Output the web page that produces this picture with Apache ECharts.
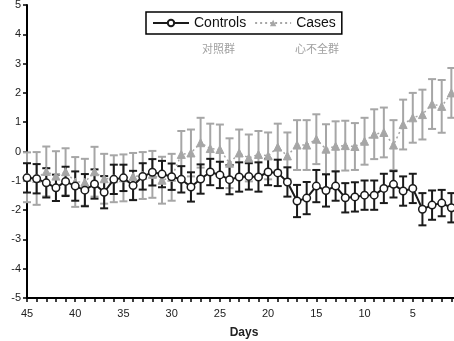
<!DOCTYPE html>
<html><head><meta charset="utf-8">
<script src="https://cdn.jsdelivr.net/npm/echarts@6/dist/echarts.min.js"></script>
<style>html,body{margin:0;padding:0;background:#fff}#c{width:454px;height:341px}</style>
</head><body><div id="c"></div>
<script>
const days = [45,44,43,42,41,40,39,38,37,36,35,34,33,32,31,30,29,28,27,26,25,24,23,22,21,20,19,18,17,16,15,14,13,12,11,10,9,8,7,6,5,4,3,2,1];
const controls = [-0.90,-0.93,-1.07,-1.24,-1.02,-1.18,-1.32,-1.11,-1.39,-0.95,-0.90,-1.16,-0.85,-0.71,-0.77,-0.86,-0.95,-1.21,-0.94,-0.70,-0.80,-0.96,-0.87,-0.85,-0.87,-0.70,-0.73,-1.04,-1.69,-1.59,-1.18,-1.33,-1.18,-1.58,-1.55,-1.49,-1.49,-1.26,-1.12,-1.35,-1.26,-1.97,-1.83,-1.76,-1.92];
const controlsErr = [0.5,0.5,0.5,0.45,0.5,0.5,0.55,0.5,0.55,0.5,0.45,0.5,0.45,0.45,0.45,0.45,0.45,0.5,0.5,0.45,0.45,0.5,0.5,0.45,0.5,0.45,0.45,0.5,0.55,0.55,0.55,0.55,0.5,0.5,0.5,0.5,0.5,0.5,0.45,0.5,0.5,0.55,0.5,0.45,0.5];
const cases = [-0.88,-0.92,-0.68,-0.84,-0.69,-1.04,-1.05,-0.69,-0.93,-0.93,-0.90,-0.85,-0.82,-0.78,-0.98,-0.88,-0.10,-0.05,0.30,0.10,0.07,-0.40,-0.05,-0.22,-0.10,-0.15,0.15,-0.15,0.22,0.22,0.42,0.08,0.18,0.20,0.17,0.35,0.59,0.65,0.22,0.92,1.15,1.26,1.62,1.54,2.00];
const casesErr = [0.85,0.9,0.85,0.85,0.8,0.85,0.8,0.85,0.85,0.8,0.8,0.8,0.8,0.8,0.8,0.8,0.8,0.8,0.85,0.85,0.85,0.85,0.8,0.8,0.8,0.8,0.8,0.8,0.85,0.85,0.85,0.85,0.85,0.85,0.8,0.8,0.85,0.85,0.85,0.85,0.85,0.85,0.85,0.9,0.85];
const yTicks = [-5,-4,-3,-2,-1,0,1,2,3,4,5];
const seriesNames = ['Controls','Cases'];
const groupLabels = ['对照群','心不全群'];

const BLACK = '#1a1a1a', GRAY = '#a6a6a6';
const FONT = 'Liberation Sans, Arial, sans-serif';

function errSeries(vals, errs, color) {
  return {
    type: 'custom',
    data: days.map((d, i) => [d, vals[i] - errs[i], vals[i] + errs[i]]),
    renderItem: function (params, api) {
      const lo = api.coord([api.value(0), api.value(1)]);
      const hi = api.coord([api.value(0), api.value(2)]);
      const w = 4;
      const st = { stroke: color, lineWidth: 2 };
      return { type: 'group', children: [
        { type: 'line', shape: { x1: lo[0], y1: lo[1], x2: hi[0], y2: hi[1] }, style: st },
        { type: 'line', shape: { x1: lo[0]-w, y1: lo[1], x2: lo[0]+w, y2: lo[1] }, style: st },
        { type: 'line', shape: { x1: hi[0]-w, y1: hi[1], x2: hi[0]+w, y2: hi[1] }, style: st }
      ]};
    },
    encode: { x: 0, y: [1, 2] },
    silent: true, z: 1
  };
}

const chart = echarts.init(document.getElementById('c'), null, { renderer: 'canvas' });
chart.setOption({
  animation: false,
  backgroundColor: '#fff',
  grid: { left: 27, top: 5, width: 434, height: 293, containLabel: false, outerBoundsMode: 'none' },
  legend: {
    data: seriesNames,
    left: 146, top: 12,
    padding: [4, 6, 4, 6],
    itemGap: 8,
    itemWidth: 36, itemHeight: 8,
    borderColor: '#000', borderWidth: 1.5, borderRadius: 0,
    textStyle: { fontFamily: FONT, fontSize: 14, color: '#111' }
  },
  xAxis: {
    type: 'value', inverse: true, min: 0, max: 45, interval: 5,
    name: 'Days', nameLocation: 'middle', nameGap: 29,
    nameTextStyle: { fontFamily: FONT, fontSize: 12, fontWeight: 'bold', color: '#222' },
    axisLine: { onZero: false, lineStyle: { color: '#000', width: 2 } },
    axisTick: { show: true, length: 4, lineStyle: { color: '#000', width: 1.5 } },
    minorTick: { show: true, splitNumber: 5, length: 4, lineStyle: { color: '#000', width: 1.5 } },
    splitLine: { show: false },
    axisLabel: { fontFamily: FONT, fontSize: 11, color: '#222', margin: 10,
      formatter: v => (v === 0 ? '' : String(v)) }
  },
  yAxis: {
    type: 'value', position: 'left', min: yTicks[0], max: yTicks[yTicks.length-1], interval: 1,
    axisLine: { show: true, onZero: false, lineStyle: { color: '#000', width: 2 } },
    axisTick: { show: true, length: 4, lineStyle: { color: '#000', width: 1.5 } },
    splitLine: { show: false },
    axisLabel: { fontFamily: FONT, fontSize: 11, color: '#222', margin: 6 }
  },
  graphic: [
    { type: 'text', left: 202, top: 43, style: { text: groupLabels[0], font: '11px "Noto Sans CJK SC"', fill: '#a0a0a0' } },
    { type: 'text', left: 295, top: 43, style: { text: groupLabels[1], font: '11px "Noto Sans CJK SC"', fill: '#a0a0a0' } }
  ],
  series: [
    errSeries(cases, casesErr, GRAY),
    {
      name: seriesNames[1], type: 'line', z: 2,
      data: days.map((d, i) => [d, cases[i]]),
      symbol: 'triangle', symbolSize: 8,
      lineStyle: { color: GRAY, width: 1.5, type: [2, 3] },
      itemStyle: { color: GRAY, borderColor: GRAY }
    },
    errSeries(controls, controlsErr, BLACK),
    {
      name: seriesNames[0], type: 'line', z: 4,
      data: days.map((d, i) => [d, controls[i]]),
      symbol: 'circle', symbolSize: 7.5,
      lineStyle: { color: BLACK, width: 2 },
      itemStyle: { color: '#fff', borderColor: BLACK, borderWidth: 1.5 }
    }
  ]
});
</script></body></html>
